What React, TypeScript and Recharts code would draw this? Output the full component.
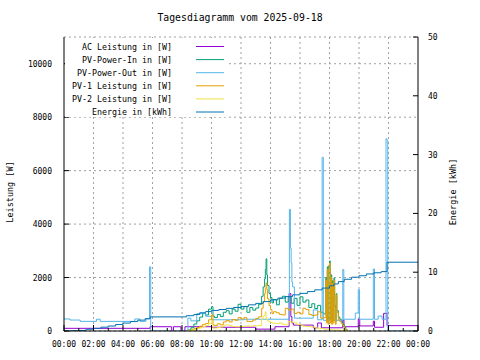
import React from 'react';
import { LineChart, Line, XAxis, YAxis, CartesianGrid, Legend } from 'recharts';

const FONT = '"DejaVu Sans Mono", monospace';

// Achsen
const HOUR_TICKS = [0, 1, 2, 3, 4, 5, 6, 7, 8, 9, 10, 11, 12, 13, 14, 15, 16, 17, 18, 19, 20, 21, 22, 23, 24];
const GRID_HOURS = [2, 4, 6, 8, 10, 12, 14, 16, 18, 20, 22];
const POWER_TICKS = [0, 2000, 4000, 6000, 8000, 10000];
const ENERGY_TICKS = [0, 10, 20, 30, 40, 50];

// AC Leistung [W]
const acHours = [0, 5.83, 7.3, 7.42, 7.93, 8.2, 10.0, 13.0, 14.3, 15.26, 15.38, 15.45, 15.55, 16.9, 17.2, 17.45, 18.9, 18.98, 19.95, 20.05, 20.97, 21.05, 21.67, 21.9, 24];
const acValues = [100, 160, 0, 160, 0, 160, 140, 70, 160, 1400, 540, 300, 220, 120, 300, 120, 410, 160, 450, 190, 370, 140, 660, 200, 200];

// PV-Power-Out [W]
const pvOutHours = [0, 0.4, 1.1, 2.2, 2.45, 4.8, 5.15, 5.55, 5.8, 5.88, 8.4, 8.6, 9.0, 9.6, 10.0, 12.2, 15.22, 15.28, 15.35, 15.4, 15.45, 15.5, 15.62, 16.9, 17.2, 17.5, 17.58, 18.9, 18.97, 19.75, 19.95, 20.03, 20.97, 21.05, 21.3, 21.56, 21.83, 21.9, 21.95, 24];
const pvOutValues = [450, 410, 360, 440, 360, 450, 360, 450, 2400, 0, 480, 380, 650, 550, 420, 440, 460, 4550, 3100, 2550, 1830, 1650, 480, 790, 420, 6500, 400, 2300, 440, 670, 1550, 440, 2320, 440, 560, 440, 7190, 7130, 0, 0];

// PV-Power-In, PV-1, PV-2 [W]
const pvHours = [
  8.4, 8.6, 8.8, 9.0, 9.2, 9.4, 9.6, 9.8, 10.0, 10.1, 10.2,
  10.4, 10.6, 10.8, 11.0, 11.2, 11.4, 11.6, 11.8, 12.0, 12.2, 12.4, 12.6, 12.8, 13.0, 13.2, 13.4,
  13.5, 13.6, 13.65, 13.7, 13.75, 13.8, 13.9, 14.0, 14.1,
  14.2, 14.4, 14.6, 14.8, 15.0, 15.2, 15.4, 15.6, 15.8, 16.0, 16.2, 16.4, 16.6, 16.8, 17.0, 17.2, 17.4, 17.6,
  17.75, 17.8, 17.85, 17.9, 17.95, 18.0, 18.05, 18.1, 18.15, 18.2, 18.25, 18.3, 18.35, 18.4, 18.45, 18.5,
  18.6, 18.7, 18.8, 18.9, 19.0, 19.1, 19.2,
];
const pvInValues = [
  40, 120, 260, 380, 520, 660, 600, 820, 910, 560, 500,
  620, 540, 700, 760, 640, 820, 740, 1000, 820, 920, 700, 880, 780, 860, 1000, 1300,
  1650, 1950, 2300, 2700, 2100, 1700, 1400, 1250, 1050,
  1180, 980, 1220, 1300, 1080, 1260, 1040, 1220, 960, 1280, 1080, 1160, 880, 1020, 840, 960, 700, 640,
  2000, 400, 2400, 350, 2450, 2620, 400, 2100, 350, 1880, 400, 1980, 950, 350, 1400, 760,
  520, 440, 340, 240, 140, 50, 0,
];
const pv1Values = [
  20, 50, 90, 130, 180, 250, 280, 420, 600, 230, 210,
  270, 230, 340, 390, 340, 430, 400, 500, 450, 500, 360, 350, 410, 470, 530, 850,
  1100, 1400, 1600, 1800, 1550, 1200, 950, 800, 650,
  720, 680, 620, 600, 850, 780, 820, 660, 700, 640, 850, 800, 620, 580, 600, 720, 480, 500,
  1900, 300, 2300, 250, 2350, 2540, 300, 2000, 250, 1790, 300, 1900, 900, 250, 1350, 700,
  420, 350, 280, 200, 100, 30, 0,
];
const pv2Values = [
  10, 30, 60, 90, 120, 170, 200, 290, 350, 100, 110,
  130, 150, 220, 230, 200, 170, 160, 160, 170, 180, 190, 180, 200, 190, 210, 450,
  560, 600, 720, 500, 420, 380, 350, 320, 300,
  290, 280, 300, 250, 230, 350, 330, 300, 240, 220, 180, 170, 160, 150, 120, 100, 90, 70,
  60, 60, 60, 55, 55, 55, 50, 50, 50, 45, 45, 45, 40, 40, 40, 40,
  30, 25, 20, 15, 10, 0, 0,
];

// Energie [kWh]
const energyHours = [0, 0.5, 1.0, 1.5, 2.0, 2.5, 3.0, 3.5, 4.0, 4.5, 5.0, 5.5, 5.85, 8.3, 8.8, 9.2, 9.6, 10.0, 10.5, 11.0, 11.5, 12.0, 12.5, 13.0, 13.5, 14.0, 14.5, 15.0, 15.5, 16.0, 16.5, 17.0, 17.5, 18.0, 18.3, 18.6, 19.0, 19.5, 20.0, 20.5, 21.0, 21.5, 21.9, 24];
const energyValues = [0, 0.05, 0.1, 0.3, 0.45, 0.65, 0.85, 1.1, 1.35, 1.6, 1.85, 2.1, 2.4, 2.6, 2.8, 3.1, 3.3, 3.5, 3.65, 3.85, 4.0, 4.15, 4.45, 4.7, 5.0, 5.3, 5.6, 5.85, 6.15, 6.4, 6.7, 7.0, 7.3, 7.7, 8.0, 8.4, 8.8, 9.15, 9.4, 9.7, 9.9, 10.1, 11.7, 11.7];

interface Point {
  h: number;
  v: number;
}

interface SeriesConfig {
  name: string;
  color: string;
  axis: 'left' | 'right';
  data: Point[];
}

const toPoints = (hours: number[], values: number[]): Point[] =>
  hours.map((h, i) => ({ h, v: values[i] }));

const SERIES: SeriesConfig[] = [
  { name: 'AC Leistung in [W]', color: '#9400d3', axis: 'left', data: toPoints(acHours, acValues) },
  { name: 'PV-Power-In in [W]', color: '#009e73', axis: 'left', data: toPoints(pvHours, pvInValues) },
  { name: 'PV-Power-Out in [W]', color: '#56b4e9', axis: 'left', data: toPoints(pvOutHours, pvOutValues) },
  { name: 'PV-1 Leistung in [W]', color: '#e69f00', axis: 'left', data: toPoints(pvHours, pv1Values) },
  { name: 'PV-2 Leistung in [W]', color: '#f0e442', axis: 'left', data: toPoints(pvHours, pv2Values) },
  { name: 'Energie in [kWh]', color: '#0072b2', axis: 'right', data: toPoints(energyHours, energyValues) },
];

const fmtHour = (h: number) => `${String(h % 24).padStart(2, '0')}:00`;

function BottomTick(props: any) {
  const { x, y, payload } = props;
  const major = payload.value % 2 === 0;
  return (
    <g>
      <line x1={x} y1={y} x2={x} y2={y - (major ? 6 : 3)} stroke="#000" />
      {major && (
        <text x={x} y={y + 16} textAnchor="middle" fontSize={8} fontFamily={FONT} fill="#000">
          {fmtHour(payload.value)}
        </text>
      )}
    </g>
  );
}

function TopTick(props: any) {
  const { x, y, payload } = props;
  const major = payload.value % 2 === 0;
  return <line x1={x} y1={y} x2={x} y2={y + (major ? 6 : 3)} stroke="#000" />;
}

function LeftTick(props: any) {
  const { x, y, payload } = props;
  return (
    <g>
      <line x1={x} y1={y} x2={x + 5} y2={y} stroke="#000" />
      <text x={x - 12} y={y + 3} textAnchor="end" fontSize={8} fontFamily={FONT} fill="#000">
        {payload.value}
      </text>
    </g>
  );
}

function RightTick(props: any) {
  const { x, y, payload } = props;
  return (
    <g>
      <line x1={x} y1={y} x2={x - 5} y2={y} stroke="#000" />
      <text x={x + 10} y={y + 3} textAnchor="start" fontSize={8} fontFamily={FONT} fill="#000">
        {payload.value}
      </text>
    </g>
  );
}

// Titel, Achsentitel und Legende (gnuplot-Stil, opake Legende oben links)
function Overlay() {
  return (
    <svg width={480} height={360} style={{ display: 'block' }}>
      <text x={240} y={21} textAnchor="middle" fontSize={9.8} fontFamily={FONT} fill="#000">
        Tagesdiagramm vom 2025-09-18
      </text>
      <text transform="translate(12.5,192) rotate(-90)" textAnchor="middle" fontSize={8.5} fontFamily={FONT} fill="#000">
        Leistung [W]
      </text>
      <text transform="translate(456,192) rotate(-90)" textAnchor="middle" fontSize={8.5} fontFamily={FONT} fill="#000">
        Energie [kWh]
      </text>
      <rect x={65} y={38} width={164} height={79} fill="#fff" />
      {SERIES.map((s, i) => (
        <g key={s.name}>
          <text x={172} y={49.7 + i * 13.1} textAnchor="end" fontSize={8.3} fontFamily={FONT} fill="#000">
            {s.name}
          </text>
          <line x1={196} x2={224} y1={46.5 + i * 13.1} y2={46.5 + i * 13.1} stroke={s.color} />
        </g>
      ))}
    </svg>
  );
}

export default function App() {
  return (
    <div style={{ position: 'absolute', left: 0, top: 0, width: 480, height: 360, background: '#fff' }}>
      <LineChart width={480} height={360} margin={{ top: 37, right: 0, bottom: 0, left: 0 }}>
        <CartesianGrid
          yAxisId="left"
          stroke="#a0a0a0"
          strokeDasharray="2 3"
          verticalCoordinatesGenerator={({ offset }: any) =>
            GRID_HOURS.map(h => offset.left + (h / 24) * offset.width)
          }
        />
        <XAxis
          dataKey="h"
          type="number"
          domain={[0, 24]}
          ticks={HOUR_TICKS}
          interval={0}
          height={29}
          tickSize={0}
          tickMargin={0}
          tickLine={false}
          tick={BottomTick}
          axisLine={{ stroke: '#000' }}
          allowDataOverflow
        />
        <XAxis
          xAxisId="top"
          orientation="top"
          dataKey="h"
          type="number"
          domain={[0, 24]}
          ticks={HOUR_TICKS}
          interval={0}
          height={0}
          tickSize={0}
          tickMargin={0}
          tickLine={false}
          tick={TopTick}
          axisLine={{ stroke: '#000' }}
          allowDataOverflow
        />
        <YAxis
          yAxisId="left"
          domain={[0, 11000]}
          ticks={POWER_TICKS}
          interval={0}
          width={64}
          tickSize={0}
          tickMargin={0}
          tickLine={false}
          tick={LeftTick}
          axisLine={{ stroke: '#000' }}
          allowDataOverflow
        />
        <YAxis
          yAxisId="right"
          orientation="right"
          domain={[0, 50]}
          ticks={ENERGY_TICKS}
          interval={0}
          width={62}
          tickSize={0}
          tickMargin={0}
          tickLine={false}
          tick={RightTick}
          axisLine={{ stroke: '#000' }}
          allowDataOverflow
        />
        <Legend
          layout="vertical"
          align="center"
          verticalAlign="middle"
          content={Overlay}
          wrapperStyle={{ left: 0, top: 0, width: 480, height: 360, pointerEvents: 'none' }}
        />
        {SERIES.map(s => (
          <Line
            key={s.name}
            data={s.data}
            dataKey="v"
            name={s.name}
            yAxisId={s.axis}
            type="stepAfter"
            stroke={s.color}
            strokeWidth={1}
            dot={false}
            activeDot={false}
            isAnimationActive={false}
          />
        ))}
      </LineChart>
    </div>
  );
}
